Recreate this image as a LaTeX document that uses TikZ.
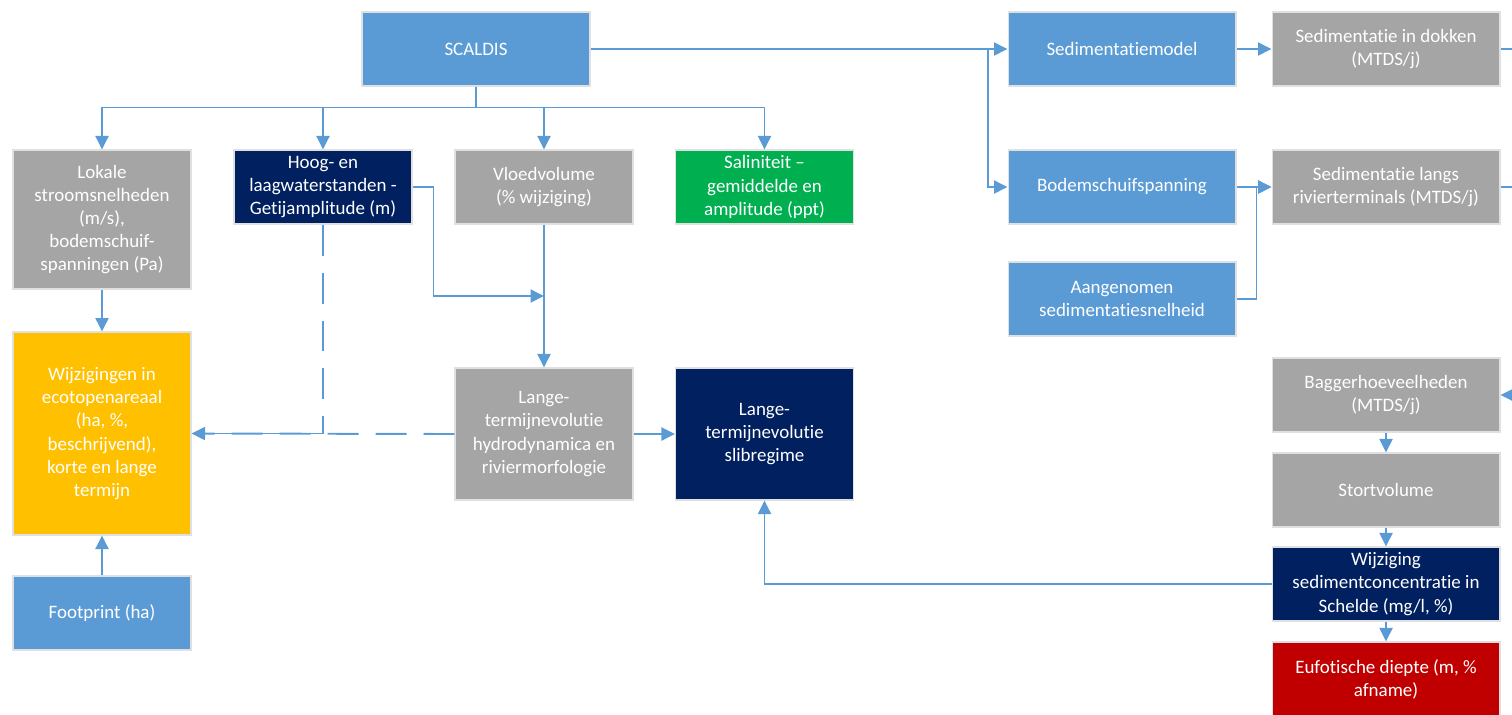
\documentclass[tikz,border=0pt]{standalone}
\usepackage{fontspec}
\setmainfont{Carlito}[Ligatures={NoCommon,NoRequired,NoContextual},RawFeature={-calt}]
\usepackage{xcolor}
\usepackage{tikz}
\usetikzlibrary{arrows.meta,positioning,calc}

\definecolor{cblue}{HTML}{5B9BD5}
\definecolor{cgray}{HTML}{A5A5A5}
\definecolor{cnavy}{HTML}{002060}
\definecolor{cgreen}{HTML}{00B050}
\definecolor{cyellow}{HTML}{FFC000}
\definecolor{cred}{HTML}{C00000}

\begin{document}
\begin{tikzpicture}[
   x=0.02cm,y=-0.02cm,
   every node/.style={font=\fontsize{10.8}{13.2}\selectfont},
   box/.style={draw=black!12,line width=0.6pt,rectangle,text=white,align=center,
               minimum width=3.56cm,minimum height=1.48cm,inner sep=1pt},
   wbox/.style={box,minimum width=4.56cm},
   ln/.style={draw=cblue,line width=1.1pt},
   arr/.style={ln,-{Triangle[length=0.27cm,width=0.26cm]}},
   dsh/.style={dash pattern=on 0.62cm off 0.34cm}
]
\useasboundingbox (0,0) rectangle (1512,714);

% top row
\node[wbox,fill=cblue] (scaldis) at (476,49) {SCALDIS};
\node[box,fill=cgray,minimum height=2.78cm] (lok) at (102,219.5)
   {Lokale\\stroomsnelheden\\(m/s),\\bodemschuif-\\spanningen (Pa)};
\node[box,fill=cnavy] (hoog) at (323,187) {Hoog- en\\laagwaterstanden -\\Getijamplitude (m)};
\node[box,fill=cgray] (vloed) at (544,187) {Vloedvolume\\(\% wijziging)};
\node[box,fill=cgreen] (sal) at (764.5,187) {Saliniteit –\\gemiddelde en\\amplitude (ppt)};

% sedimentation chain
\node[wbox,fill=cblue] (sedm) at (1122,49) {Sedimentatiemodel};
\node[wbox,fill=cgray] (dokken) at (1386,49) {Sedimentatie in dokken\\(MTDS/j)};
\node[wbox,fill=cblue] (bodem) at (1122,187) {Bodemschuifspanning};
\node[wbox,fill=cgray] (langs) at (1386,187) {Sedimentatie langs\\rivierterminals (MTDS/j)};
\node[wbox,fill=cblue] (aang) at (1122,299) {Aangenomen\\sedimentatiesnelheid};

% ecotopes and long term
\node[box,fill=cyellow,minimum height=4.06cm] (eco) at (102,433.5)
   {Wijzigingen in\\ecotopenareaal\\(ha, \%,\\beschrijvend),\\korte en lange\\termijn};
\node[box,fill=cblue] (foot) at (102,613) {Footprint (ha)};
\node[box,fill=cgray,minimum height=2.64cm] (lhyd) at (544,434)
   {Lange-\\termijnevolutie\\hydrodynamica en\\riviermorfologie};
\node[box,fill=cnavy,minimum height=2.64cm] (lslib) at (764.5,434)
   {Lange-\\termijnevolutie\\slibregime};

% dredging column
\node[wbox,fill=cgray] (bagger) at (1386,395) {Baggerhoeveelheden\\(MTDS/j)};
\node[wbox,fill=cgray] (stort) at (1386,490) {Stortvolume};
\node[wbox,fill=cnavy] (wijz) at (1386,584) {Wijziging\\sedimentconcentratie in\\Schelde (mg/l, \%)};
\node[wbox,fill=cred] (eufo) at (1386,679) {Eufotische diepte (m, \%\\afname)};

% helper points
\coordinate (jn) at (988,49);
\coordinate (vj) at (544,296);
\coordinate (dokout) at (1540,49);
\coordinate (langsout) at (1540,187);
\coordinate (bagin) at (1540,395);

% SCALDIS outputs
\foreach \n in {lok,hoog,vloed,sal}
  \draw[arr] (scaldis.south) -- ++(0,21) -| (\n.north);
\draw[arr] (scaldis.east) -- (sedm.west);
\draw[arr] (jn) |- (bodem.west);
\draw[arr] (sedm.east) -- (dokken.west);
\draw[arr] (bodem.east) -- (langs.west);
\draw[arr] (aang.east) -- ++(20,0) |- (langs.west);
\draw[ln] (dokken.east) -- (dokout);
\draw[ln] (langs.east) -- (langsout);
\draw[arr] (bagin) -- (bagger.east);

% left part
\draw[arr] (lok.south) -- (eco.north);
\draw[arr] (foot.north) -- (eco.south);
\draw[ln,dsh] (hoog.south) |- (eco.east);
\draw[arr,dsh] (lhyd.west) -- (eco.east);
\draw[arr] (hoog.east) -- ++(21,0) |- (vj);
\draw[arr] (vloed.south) -- (lhyd.north);
\draw[arr] (lhyd.east) -- (lslib.west);

% dredging chain
\draw[arr] (bagger.south) -- (stort.north);
\draw[arr] (stort.south) -- (wijz.north);
\draw[arr] (wijz.south) -- (eufo.north);
\draw[arr] (wijz.west) -| (lslib.south);

\end{tikzpicture}
\end{document}
